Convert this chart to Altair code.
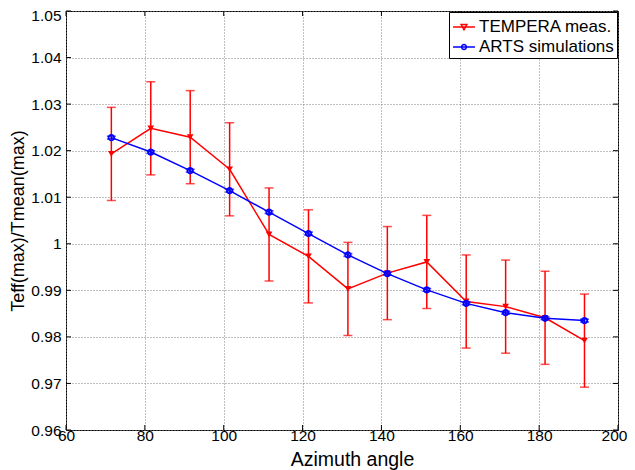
import altair as alt
import pandas as pd

azimuth = [71.5, 81.5, 91.5, 101.5, 111.5, 121.5, 131.5, 141.5, 151.5, 161.5, 171.5, 181.5, 191.5]
tempera = [1.0193, 1.0248, 1.0229, 1.0160, 1.0020, 0.9973, 0.9903, 0.9937, 0.9961, 0.9876, 0.9865, 0.9841, 0.9792]
tempera_err = [0.0100, 0.0100, 0.0100, 0.0100, 0.0100, 0.0100, 0.0100, 0.0100, 0.0100, 0.0100, 0.0100, 0.0100, 0.0100]
arts = [1.0228, 1.0197, 1.0157, 1.0114, 1.0068, 1.0022, 0.9976, 0.9936, 0.9901, 0.9872, 0.9852, 0.9840, 0.9835]
arts_err = [0.0003, 0.0003, 0.0003, 0.0003, 0.0003, 0.0003, 0.0003, 0.0003, 0.0003, 0.0003, 0.0003, 0.0003, 0.0003]

series_names = ["TEMPERA meas.", "ARTS simulations"]
series_colors = ["#ff0000", "#0000ff"]
x_ticks = [60, 80, 100, 120, 140, 160, 180, 200]
y_ticks = [0.96, 0.97, 0.98, 0.99, 1.0, 1.01, 1.02, 1.03, 1.04, 1.05]

rows = []
for name, vals, errs in [(series_names[0], tempera, tempera_err), (series_names[1], arts, arts_err)]:
    for a, v, e in zip(azimuth, vals, errs):
        rows.append({"series": name, "x": a, "y": v, "lo": v - e, "hi": v + e})
df = pd.DataFrame(rows)
xt_df = pd.DataFrame({"x": x_ticks})
yt_df = pd.DataFrame({"y": y_ticks})

FONT = "Liberation Sans"
W, H = 552, 419
TICK = 5

xscale = alt.Scale(domain=[60, 200], nice=False, zero=False)
yscale = alt.Scale(domain=[0.96, 1.05], nice=False, zero=False)

x_axis = alt.Axis(values=x_ticks, title="Azimuth angle", grid=True, ticks=False, domain=False,
                  labelPadding=-2, labelFontSize=15.5, labelColor="black", labelFont=FONT,
                  labelOffset={"condition": {"test": "datum.value > 195", "value": -4}, "value": 0},
                  titleFont=FONT, titleFontSize=19.5, titleFontWeight="normal", titleColor="black",
                  titleBaseline="alphabetic", titleY=35, titleX=286, labelFlush=False,
                  gridColor="#808080", gridDash=[1, 2], gridWidth=1)
y_axis = alt.Axis(values=y_ticks, title="Teff(max)/Tmean(max)", grid=True, ticks=False, domain=False,
                  format=".3~g", labelPadding=5, labelFontSize=15.5, labelColor="black", labelFont=FONT,
                  labelOffset={"condition": {"test": "datum.value > 1.045", "value": 4}, "value": 0},
                  titleFont=FONT, titleFontSize=18, titleFontWeight="normal", titleColor="black",
                  titleAngle=270, titleBaseline="middle", titleAlign="center", titleX=-48,
                  labelFlush=False, gridColor="#808080", gridDash=[1, 2], gridWidth=1)

base = alt.Chart(df)

def xe(field="x"):
    return alt.X(f"{field}:Q", scale=xscale, axis=x_axis, title="Azimuth angle")

def ye(field="y"):
    return alt.Y(f"{field}:Q", scale=yscale, axis=y_axis, title="Teff(max)/Tmean(max)")

layers = []

# inward tick marks on all four sides (MATLAB box style)
xt = alt.Chart(xt_df)
yt = alt.Chart(yt_df)
layers += [
    xt.mark_rule(color="black", strokeWidth=1).encode(x=xe(), y=alt.value(H), y2=alt.value(H - TICK)),
    xt.mark_rule(color="black", strokeWidth=1).encode(x=xe(), y=alt.value(0), y2=alt.value(TICK)),
    yt.mark_rule(color="black", strokeWidth=1).encode(y=ye(), x=alt.value(0), x2=alt.value(TICK)),
    yt.mark_rule(color="black", strokeWidth=1).encode(y=ye(), x=alt.value(W - TICK), x2=alt.value(W)),
]

for name, col in zip(series_names, series_colors):
    sub = base.transform_filter(alt.datum.series == name)
    bars = sub.mark_rule(color=col, strokeWidth=1.5).encode(x=xe(), y=ye("lo"), y2="hi:Q")
    cap_lo = sub.mark_tick(color=col, orient="horizontal", size=9, thickness=1.5).encode(x=xe(), y=ye("lo"))
    cap_hi = sub.mark_tick(color=col, orient="horizontal", size=9, thickness=1.5).encode(x=xe(), y=ye("hi"))
    line = sub.mark_line(color=col, strokeWidth=1.5).encode(x=xe(), y=ye())
    if name == series_names[0]:
        pts = sub.mark_point(color=col, shape="triangle-down", filled=True, size=45, opacity=1).encode(
            x=xe(), y=ye())
    else:
        pts = sub.mark_point(color=col, shape="circle", filled=False, size=30, strokeWidth=1.8, opacity=1).encode(
            x=xe(), y=ye())
    layers += [bars, cap_lo, cap_hi, line, pts]

red_sym = "M-1,0L1,0M-0.26,-0.22L0.26,-0.22L0,0.24Z"
blue_sym = "M-1,0L1,0M0.22,0A0.22,0.22,0,1,1,-0.22,0A0.22,0.22,0,1,1,0.22,0Z"

legend_layer = base.transform_filter("datum.y > 10").mark_point(filled=False, strokeWidth=1.5).encode(
    x=xe(), y=ye(),
    color=alt.Color("series:N", scale=alt.Scale(domain=series_names, range=series_colors),
                    legend=alt.Legend(title=None, orient="top-right", offset=1, padding=3,
                                      symbolSize=480, symbolStrokeWidth=1.5, rowPadding=0,
                                      labelFont=FONT, labelFontSize=17, labelColor="black",
                                      labelOffset=3, strokeColor="black", fillColor="white",
                                      cornerRadius=0, symbolOpacity=1, labelLimit=300)),
    shape=alt.Shape("series:N", scale=alt.Scale(domain=series_names, range=[red_sym, blue_sym]), legend=None),
)
layers.append(legend_layer)

chart = alt.layer(*layers).properties(
    width=W, height=H,
    background="white",
    autosize=alt.AutoSizeParams(type="none"),
    padding={"left": 58, "top": 3, "right": 9, "bottom": 40},
).configure_view(stroke="black", strokeWidth=1)

chart.save("out.html", embed_options={"renderer": "svg", "actions": False})
